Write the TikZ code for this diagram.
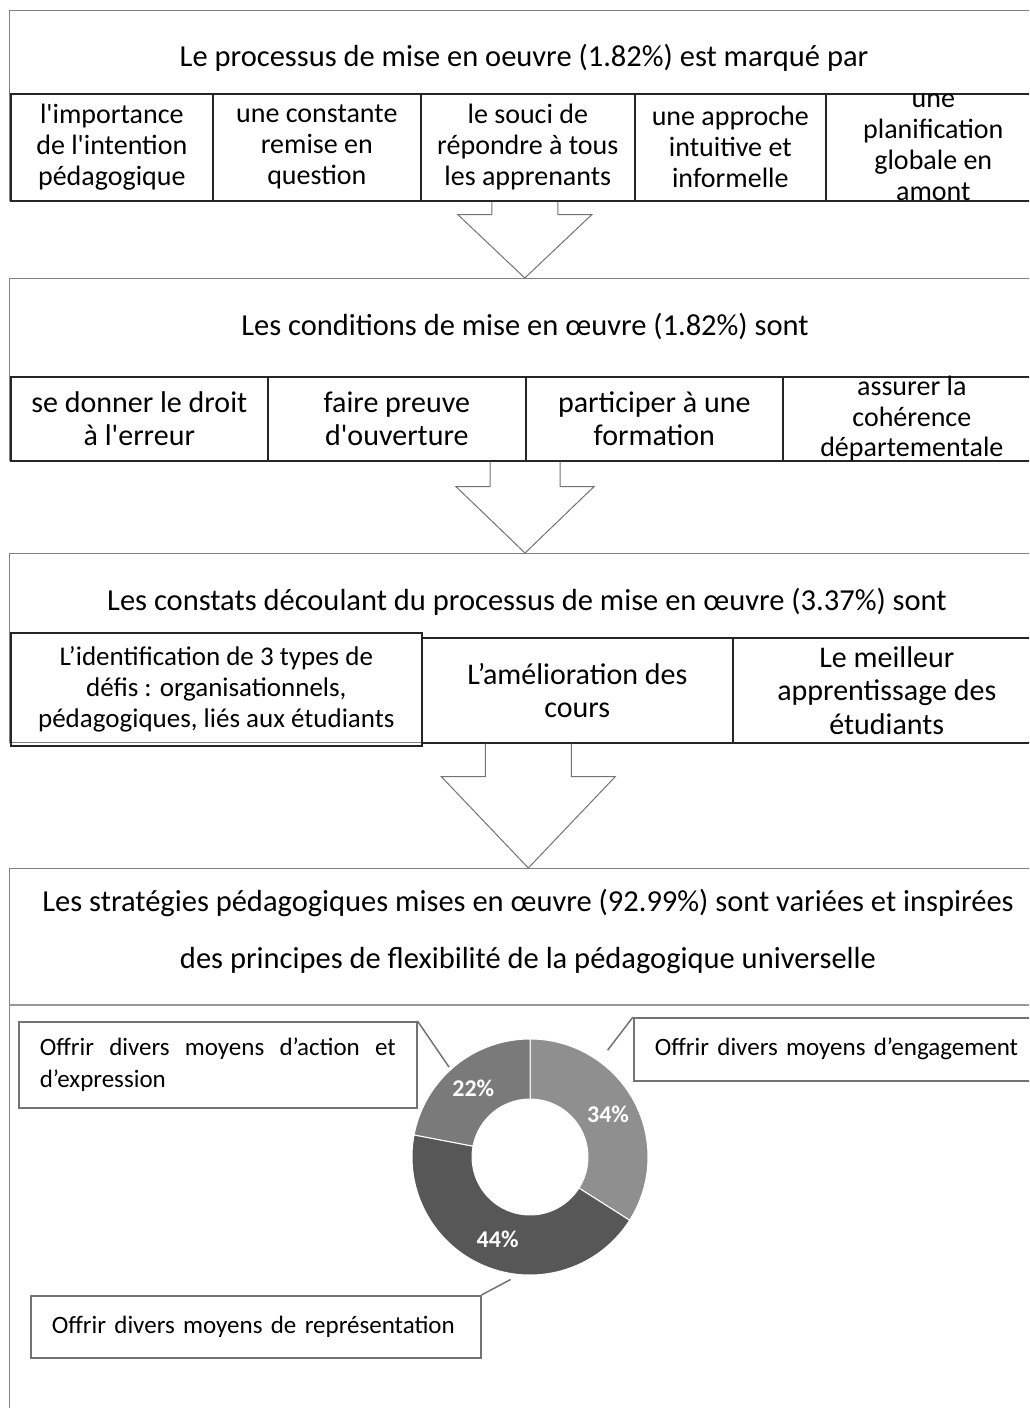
\documentclass[tikz,border=0pt]{standalone}
\usepackage{fontspec}
\newfontfamily\calib{Carlito}
\usetikzlibrary{calc}
\definecolor{seg22}{gray}{0.48}
\definecolor{seg34}{gray}{0.56}
\definecolor{seg44}{gray}{0.34}
\tikzset{
  panel/.style={draw=black!50, line width=1.2pt, anchor=north west, inner sep=0pt},
  cell/.style={draw=black!85, line width=1.6pt, anchor=north west, inner sep=0pt, align=center},
  celltxt/.style={inner sep=0pt, align=center},
  small/.style={font=\calib\fontsize{28}{31}\selectfont},
  large/.style={font=\calib\fontsize{30}{33.5}\selectfont},
  title/.style={inner sep=0pt, align=center, font=\calib\fontsize{30.5}{57}\selectfont},
  bigarrow/.style={draw=black!55, line width=1pt},
  callout/.style={draw=black!55, line width=1.5pt, anchor=north west, inner ysep=0pt,
    inner xsep=21pt, align=left, font=\calib\fontsize{25}{32}\selectfont},
  leader/.style={draw=black!55, line width=1.5pt},
  pct/.style={text=white, inner sep=0pt, font=\calib\bfseries\fontsize{24}{26}\selectfont}
}
\begin{document}
\begin{tikzpicture}[x=1pt,y=-1pt]
  \useasboundingbox (0,0) rectangle (1029,1408);
  \clip (0,0) rectangle (1029,1408);
  \fill[white] (0,0) rectangle (1029,1408);

  % panel 1
  \node[panel, minimum width=1040, minimum height=190] (p1) at (9,10) {};
  \node[title] (t1) at (524,58) {Le processus de mise en oeuvre (1.82\%) est marqué par};
  \node[cell, small, minimum width=202, minimum height=107] (r1a) at (10,93)
    {l'importance\\de l'intention\\pédagogique};
  \node[cell, small, minimum width=208, minimum height=107] (r1b) at (212,93)
    {une constante\\remise en\\question};
  \node[cell, small, minimum width=214, minimum height=107] (r1c) at (420,93)
    {le souci de\\répondre à tous\\les apprenants};
  \node[cell, small, minimum width=191, minimum height=107] (r1d) at (634,93)
    {une approche\\intuitive et\\informelle};
  \node[cell, minimum width=215, minimum height=107] (r1e) at (825,93) {};
  \node[celltxt, small] (r1e-t) at (r1e.center) {une\\planification\\globale en\\amont};

  % panel 2
  \node[panel, minimum width=1040, minimum height=182] (p2) at (9,278) {};
  \node[title] (t2) at (525,326) {Les conditions de mise en œuvre (1.82\%) sont};
  \node[cell, large, minimum width=257, minimum height=84] (r2a) at (10,376)
    {se donner le droit\\à l'erreur};
  \node[cell, large, minimum width=258, minimum height=84] (r2b) at (267,376)
    {faire preuve\\d'ouverture};
  \node[cell, large, minimum width=257, minimum height=84] (r2c) at (525,376)
    {participer à une\\formation};
  \node[cell, minimum width=258, minimum height=84] (r2d) at (782,376) {};
  \node[celltxt, font=\calib\fontsize{28}{30.5}\selectfont] (r2d-t) at (r2d.center)
    {assurer la\\cohérence\\départementale};

  % panel 3
  \node[panel, minimum width=1040, minimum height=189] (p3) at (9,553) {};
  \node[title] (t3) at (527,602) {Les constats découlant du processus de mise en œuvre (3.37\%) sont};
  \node[cell, minimum width=311, minimum height=105] (r3b) at (421,637) {};
  \node[cell, minimum width=308, minimum height=105] (r3c) at (732,637) {};
  \node[cell, font=\calib\fontsize{27}{31}\selectfont, minimum width=411, minimum height=113] (r3a) at (10,632)
    {L’identification de 3 types de\\défis : organisationnels,\\pédagogiques, liés aux étudiants};
  \node[celltxt, large] (r3b-t) at (r3b.center) {L’amélioration des\\cours};
  \node[celltxt, large] (r3c-t) at (r3c.center) {Le meilleur\\apprentissage des\\étudiants};

  % panel 4
  \node[panel, minimum width=1040, minimum height=600] (p4) at (9,868) {};
  \node[title] (t4) at (528,931) {Les stratégies pédagogiques mises en œuvre (92.99\%) sont variées et inspirées\\
    des principes de flexibilité de la pédagogique universelle};
  \draw[draw=black!40, line width=1.2pt] (9,1005) -- (1040,1005);

  % arrows
  \coordinate (a1) at ($(r1c.south)+(-3,0)$);
  \coordinate (a2) at ($(r2c.north west |- r2c.south)$);
  \coordinate (a3) at ($(r3b.south)+(-49,0)$);
  \draw[bigarrow] ($(a1)+(-33,0)$) -- ++(0,13) -- ++(-34,0) -- (a1 |- p2.north)
    -- ($(a1)+(67,13)$) -- ++(-34,0) -- ++(0,-13);
  \draw[bigarrow] ($(a2)+(-35,0)$) -- ++(0,25) -- ++(-34,0) -- (a2 |- p3.north)
    -- ($(a2)+(69,25)$) -- ++(-34,0) -- ++(0,-25);
  \draw[bigarrow] ($(a3)+(-43,0)$) -- ++(0,33) -- ++(-44,0) -- (a3 |- p4.north)
    -- ($(a3)+(87,33)$) -- ++(-44,0) -- ++(0,-33);

  % donut
  \coordinate (dc) at (530,1157);
  \begin{scope}[shift={(dc)}, y=1pt]
    \fill[seg34, draw=white, line width=1pt] (90:118) arc (90:-32.4:118) -- (-32.4:58) arc (-32.4:90:58) -- cycle;
    \fill[seg44, draw=white, line width=1pt] (-32.4:118) arc (-32.4:-190.8:118) -- (-190.8:58) arc (-190.8:-32.4:58) -- cycle;
    \fill[seg22, draw=white, line width=1pt] (169.2:118) arc (169.2:90:118) -- (90:58) arc (90:169.2:58) -- cycle;
    \node[pct] (v22) at (129.6:89) {22\%};
    \node[pct] (v34) at (28.8:89) {34\%};
    \node[pct] (v44) at (248.4:88) {44\%};
    \coordinate (l22) at (132:121);
    \coordinate (l34) at (54:132);
    \coordinate (l44) at (261:124);
  \end{scope}

  % callouts
  \node[callout, minimum height=86, text width=356] (c1) at (18,1021)
    {\hbox to 356pt{Offrir\hfill divers\hfill moyens\hfill d’action\hfill et}\\d’expression};
  \node[callout, minimum height=63, text width=370] (c2) at (633,1017)
    {Offrir divers moyens d’engagement};
  \node[callout, minimum height=62, text width=408] (c3) at (30,1295)
    {Offrir divers moyens de représentation};
  \draw[leader] (c1.north east) -- (l22);
  \draw[leader] (c2.north west) -- (l34);
  \draw[leader] (c3.north east) -- (l44);
\end{tikzpicture}
\end{document}
